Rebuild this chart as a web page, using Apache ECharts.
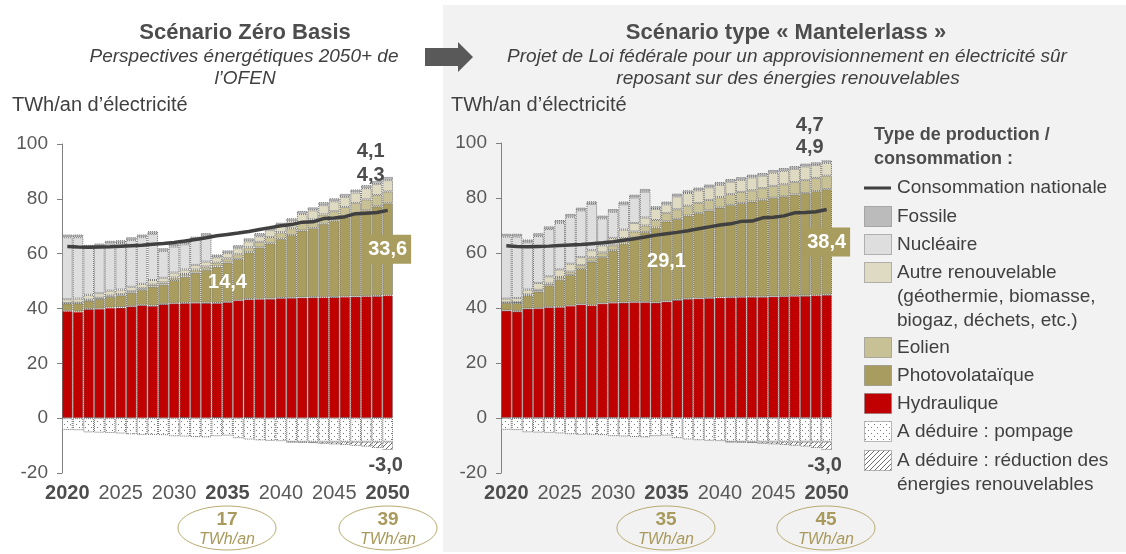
<!DOCTYPE html>
<html>
<head>
<meta charset="utf-8">
<script src="https://cdn.jsdelivr.net/npm/echarts@6/dist/echarts.min.js"></script>
<style>
  html, body { margin: 0; padding: 0; background: #ffffff; }
  #chart { width: 1126px; height: 554px; }
</style>
</head>
<body>
<div id="chart"></div>
<script>
// Categories
const years = ['2020','2021','2022','2023','2024','2025','2026','2027','2028','2029','2030',
               '2031','2032','2033','2034','2035','2036','2037','2038','2039','2040',
               '2041','2042','2043','2044','2045','2046','2047','2048','2049','2050'];
const yTicks = [-20, 0, 20, 40, 60, 80, 100];
const boldYears = ['2020', '2035', '2050'];

// Shared series (TWh/an)
const hydro = [39.1, 38.8, 39.8, 39.9, 40.3, 40.4, 40.8, 41.3, 41.0, 41.6, 41.9,
               42.0, 42.1, 42.1, 42.0, 42.4, 43.0, 43.4, 43.5, 43.6, 43.8,
               43.9, 44.0, 44.1, 44.1, 44.2, 44.3, 44.4, 44.5, 44.6, 44.8];
const nuclear = [22.6, 22.4, 17.2, 17.1, 17.2, 17.0, 17.1, 17.0, 16.8, 9.8, 9.5,
                 9.2, 9.3, 9.4, null, null, null, null, null, null, null,
                 null, null, null, null, null, null, null, null, null, null];
const consumption = [62.6, 62.4, 62.3, 62.4, 62.5, 62.7, 62.9, 63.1, 63.4, 63.7, 64.1,
                     64.6, 65.2, 65.8, 66.5, 67.0, 67.5, 68.1, 68.8, 69.5, 70.2,
                     70.6, 71.5, 71.6, 72.8, 73.0, 73.5, 74.6, 74.7, 75.0, 75.8];
const pumping = [-4.3, -4.4, -5.2, -5.3, -5.4, -5.6, -5.9, -6.1, -6.1, -6.2, -6.6,
                 -6.7, -6.9, -7.0, -6.6, -6.4, -7.3, -7.8, -8.1, -8.3, -8.4,
                 -8.6, -8.6, -8.6, -8.6, -8.6, -8.6, -8.6, -8.6, -8.6, -8.6];
const curtailment = [null, null, null, null, null, null, null, null, null, null, null,
                     null, null, null, null, null, null, null, null, null, null,
                     -0.2, -0.3, -0.5, -0.8, -1.0, -1.2, -1.5, -1.8, -2.3, -3.0];

// Scénario Zéro Basis
const solarZB = [2.8, 3.1, 3.1, 3.7, 4.0, 4.4, 5.0, 5.5, 7.0, 7.1, 8.5,
                 9.6, 11.0, 12.0, 13.3, 14.4, 15.1, 17.1, 18.8, 20.2, 21.6,
                 22.9, 24.5, 25.2, 26.8, 27.8, 29.0, 30.3, 31.3, 32.7, 33.6];
const windZB = [0.1, 0.2, 0.3, 0.3, 0.4, 0.4, 0.5, 0.6, 0.7, 0.8, 0.9,
                1.0, 1.1, 1.2, 1.4, 1.5, 1.7, 1.8, 2.0, 2.3, 2.4,
                2.5, 3.0, 3.2, 3.4, 3.5, 3.7, 3.8, 4.0, 4.1, 4.3];
const otherZB = [1.4, 1.5, 1.8, 1.7, 1.8, 1.7, 1.6, 1.6, 1.7, 1.7, 1.8,
                 1.6, 1.7, 1.8, 2.0, 1.9, 2.2, 2.2, 2.1, 2.5, 2.4,
                 2.5, 3.0, 3.3, 3.4, 3.6, 3.7, 3.8, 4.1, 4.0, 4.1];
const fossilZB = [1.0, 1.0, 1.0, 1.0, 1.0, 1.0, 1.0, 1.0, 1.0, 1.0, 1.0,
                  1.0, 1.0, 1.0, 1.0, 1.0, 1.1, 1.1, 1.1, 1.1, 1.1,
                  1.1, 1.1, 1.1, 1.1, 1.1, 1.1, 1.1, 1.1, 1.1, 1.2];

// Scénario type « Mantelerlass »
const solarML = [2.8, 3.1, 4.7, 6.1, 7.8, 9.9, 11.2, 12.9, 15.9, 16.9, 19.1,
                 21.4, 23.5, 25.5, 27.2, 29.1, 29.4, 30.2, 31.0, 31.9, 32.7,
                 33.6, 34.2, 34.6, 35.3, 35.9, 36.3, 36.9, 37.3, 37.9, 38.4];
const windML = [0.1, 0.2, 0.4, 0.6, 0.8, 1.0, 1.2, 1.4, 1.5, 1.7, 1.8,
                2.0, 2.2, 2.4, 2.8, 3.0, 3.5, 3.6, 3.7, 3.8, 3.8,
                3.9, 4.0, 4.1, 4.2, 4.3, 4.4, 4.5, 4.7, 4.8, 4.9];
const otherML = [1.4, 1.5, 1.8, 2.5, 2.6, 2.7, 2.9, 2.9, 2.6, 2.6, 2.7,
                 3.1, 3.1, 2.9, 4.0, 3.2, 4.7, 4.6, 4.6, 4.6, 4.5,
                 4.5, 4.4, 4.7, 4.5, 4.8, 4.9, 4.8, 5.0, 4.7, 4.7];
const fossilML = [1.0, 1.0, 1.0, 1.0, 1.0, 1.0, 1.0, 1.0, 1.0, 1.0, 1.0,
                  1.0, 1.0, 1.0, 1.0, 1.0, 1.0, 1.0, 1.0, 1.0, 1.0,
                  1.0, 1.0, 1.0, 1.0, 1.0, 1.0, 1.0, 1.0, 1.0, 0.9];

// Bottom-row totals
const totalsZB = ['17', '39'];
const totalsML = ['35', '45'];

const FONT = '"Liberation Sans", Arial, Helvetica, sans-serif';
const C = {
  hydro: '#C00000', solar: '#A89C5E', wind: '#C9C196', other: '#DFDAC2',
  nuclear: '#DEDEDE', fossil: '#BBBBBB', line: '#404040', text: '#404040',
  axis: '#595959', gold: '#A89A5C', ring: '#B8AA70', panel: '#F2F2F2'
};

// Fill patterns for the deduction layers
function dotPattern() {
  const c = document.createElement('canvas');
  c.width = 6; c.height = 6;
  const g = c.getContext('2d');
  g.fillStyle = '#ffffff'; g.fillRect(0, 0, 6, 6);
  g.fillStyle = '#7a7a7a';
  g.fillRect(1, 1, 1, 1); g.fillRect(4, 4, 1, 1);
  return c;
}
function hatchPattern() {
  const c = document.createElement('canvas');
  c.width = 5; c.height = 5;
  const g = c.getContext('2d');
  g.fillStyle = '#ffffff'; g.fillRect(0, 0, 5, 5);
  g.strokeStyle = '#6a6a6a'; g.lineWidth = 1;
  g.beginPath();
  g.moveTo(-1, 6); g.lineTo(6, -1);
  g.moveTo(-1, 1); g.lineTo(1, -1);
  g.moveTo(4, 6); g.lineTo(6, 4);
  g.stroke();
  return c;
}
const dots = { image: dotPattern(), repeat: 'repeat' };
const hatch = { image: hatchPattern(), repeat: 'repeat' };

const fmt = v => Number(v).toFixed(1).replace('.', ',');
const border = { borderColor: '#6f6f6f', borderWidth: 1, borderType: 'dotted' };

function barSeries(name, data, color, gi, extra) {
  return Object.assign({
    name: name, type: 'bar', stack: 'total' + gi,
    xAxisIndex: gi, yAxisIndex: gi,
    barCategoryGap: '0%', data: data,
    itemStyle: Object.assign({ color: color }, border),
    emphasis: { disabled: true }, animation: false
  }, extra || {});
}

function scenarioSeries(gi, solar, wind, other, fossil, lab) {
  const last = years.length - 1;
  const mid = years.indexOf('2035');
  const valueLabel = o => Object.assign({
    show: true, position: 'inside', fontWeight: 'bold', fontSize: 20, fontFamily: FONT,
    formatter: p => fmt(p.value)
  }, o);
  const solarData = solar.map((v, i) => {
    if (i === mid) return { value: v, label: valueLabel({ color: '#fff' }) };
    if (i === last) return { value: v, label: valueLabel({ color: '#fff', backgroundColor: C.solar, padding: [5, 4, 4, 4] }) };
    return v;
  });
  const topLabel = (arr, off) => arr.map((v, i) => i === last
    ? { value: v, label: valueLabel({ offset: off, color: '#4d4d4d' }) }
    : v);
  const curtData = curtailment.map((v, i) => i === last
    ? { value: v, label: valueLabel({ position: 'bottom', distance: 6, offset: [-2, 0], color: '#4d4d4d' }) }
    : v);
  return [
    barSeries('Hydraulique', hydro, C.hydro, gi),
    barSeries('Photovolataïque', solarData, C.solar, gi),
    barSeries('Eolien', topLabel(wind, lab.wind), C.wind, gi, {
      markLine: {
        silent: true, symbol: ['none', 'none'], animation: false,
        label: { show: false },
        lineStyle: { color: '#5a5a5a', width: 1, type: 'solid' },
        data: [[{ coord: ['2050', lab.lineTop] }, { coord: ['2050', lab.lineBottom] }]]
      }
    }),
    barSeries('Autre renouvelable', topLabel(other, lab.other), C.other, gi),
    barSeries('Nucléaire', nuclear, C.nuclear, gi),
    barSeries('Fossile', fossil, C.fossil, gi),
    barSeries('A déduire : pompage', pumping, dots, gi),
    barSeries('A déduire : réduction', curtData, hatch, gi),
    {
      name: 'Consommation nationale', type: 'line', xAxisIndex: gi, yAxisIndex: gi,
      data: consumption, symbol: 'none', z: 5, animation: false,
      lineStyle: { color: C.line, width: 3.5 }, emphasis: { disabled: true }
    }
  ];
}

function xAxis(gi) {
  return {
    type: 'category', gridIndex: gi, data: years, position: 'bottom',
    axisLine: { show: false }, axisTick: { show: false },
    axisLabel: {
      interval: i => i % 5 === 0, margin: 10, fontSize: 20, fontFamily: FONT, color: C.axis,
      formatter: v => boldYears.includes(v) ? '{b|' + v + '}' : v,
      rich: { b: { fontWeight: 'bold', fontSize: 20, fontFamily: FONT, color: '#4d4d4d' } }
    }
  };
}
function yAxis(gi) {
  return {
    type: 'value', gridIndex: gi, min: yTicks[0], max: yTicks[yTicks.length - 1], interval: 20,
    axisLine: { show: true, lineStyle: { color: '#808080', width: 1 } },
    axisTick: { show: true, length: 5, lineStyle: { color: '#808080' } },
    splitLine: { show: false },
    axisLabel: { margin: 14, fontSize: 19, fontFamily: FONT, color: C.axis }
  };
}

// Legend entries (drawn as graphics on the right-hand panel)
const legendItems = [
  { name: 'Fossile', fill: C.fossil, y: 206 },
  { name: 'Nucléaire', fill: C.nuclear, y: 234 },
  { name: 'Autre renouvelable\n(géothermie, biomasse,\nbiogaz, déchets, etc.)', fill: C.other, y: 262 },
  { name: 'Eolien', fill: C.wind, y: 337 },
  { name: 'Photovolataïque', fill: C.solar, y: 365 },
  { name: 'Hydraulique', fill: C.hydro, y: 393 },
  { name: 'A déduire : pompage', fill: dots, y: 421 },
  { name: 'A déduire : réduction des\nénergies renouvelables', fill: hatch, y: 450 }
];

function txt(x, y, text, o) {
  return {
    type: 'text', x: x, y: y, z: 10, silent: true,
    style: Object.assign({
      text: text, fill: C.text, fontSize: 19, fontFamily: FONT,
      align: 'left', verticalAlign: 'middle'
    }, o || {})
  };
}
function ring(cx, value) {
  return [
    { type: 'ellipse', z: 10, silent: true, shape: { cx: cx, cy: 528, rx: 49, ry: 22 },
      style: { fill: 'none', stroke: C.ring, lineWidth: 1 } },
    txt(cx, 520, value, { align: 'center', fill: C.gold, fontWeight: 'bold', fontSize: 19 }),
    txt(cx, 540, 'TWh/an', { align: 'center', fill: C.gold, fontStyle: 'italic', fontSize: 16 })
  ];
}

const graphics = [
  { type: 'rect', z: -10, silent: true, shape: { x: 443, y: 5, width: 700, height: 547 }, style: { fill: C.panel } },
  // arrow between the two scenarios
  { type: 'polygon', z: 10, silent: true,
    shape: { points: [[425, 48], [458, 48], [458, 42], [473, 57], [458, 72], [458, 66], [425, 66]] },
    style: { fill: '#595959' } },
  txt(245, 33, 'Scénario Zéro Basis', { align: 'center', fontWeight: 'bold', fontSize: 22, fill: '#4d4d4d' }),
  txt(244, 57, 'Perspectives énergétiques 2050+ de', { align: 'center', fontStyle: 'italic', fontSize: 19 }),
  txt(245, 79, 'l\u2019OFEN', { align: 'center', fontStyle: 'italic', fontSize: 19 }),
  txt(786, 33, 'Scénario type « Mantelerlass »', { align: 'center', fontWeight: 'bold', fontSize: 22, fill: '#4d4d4d' }),
  txt(787, 57, 'Projet de Loi fédérale pour un approvisionnement en électricité sûr', { align: 'center', fontStyle: 'italic', fontSize: 19 }),
  txt(788, 79, 'reposant sur des énergies renouvelables', { align: 'center', fontStyle: 'italic', fontSize: 19 }),
  txt(12, 105, 'TWh/an d\u2019électricité', { fontSize: 20 }),
  txt(451, 105, 'TWh/an d\u2019électricité', { fontSize: 20 }),
  txt(874, 135, 'Type de production /', { fontWeight: 'bold', fontSize: 18, fill: '#4d4d4d' }),
  txt(874, 159, 'consommation :', { fontWeight: 'bold', fontSize: 18, fill: '#4d4d4d' }),
  { type: 'line', z: 10, silent: true, shape: { x1: 864, y1: 188, x2: 891, y2: 188 }, style: { stroke: C.line, lineWidth: 3 } },
  txt(897, 188, 'Consommation nationale')
].concat(
  ring(227, totalsZB[0]), ring(388, totalsZB[1]),
  ring(666, totalsML[0]), ring(826, totalsML[1])
);
legendItems.forEach(it => {
  graphics.push({ type: 'rect', z: 10, silent: true, shape: { x: 864.5, y: it.y + 0.5, width: 27, height: 20 },
    style: { fill: it.fill, stroke: '#777', lineWidth: 1, lineDash: [1, 1] } });
  // multi-line names start on the row of their swatch
  graphics.push(txt(897, it.y - 1, it.name, { verticalAlign: 'top', lineHeight: 24 }));
});

const chart = echarts.init(document.getElementById('chart'), null, { renderer: 'canvas' });
chart.setOption({
  backgroundColor: '#ffffff',
  animation: false,
  textStyle: { fontFamily: FONT },
  grid: [
    { left: 62, top: 144, width: 331, height: 329 },
    { left: 501, top: 143, width: 331, height: 330 }
  ],
  xAxis: [xAxis(0), xAxis(1)],
  yAxis: [yAxis(0), yAxis(1)],
  series: scenarioSeries(0, solarZB, windZB, otherZB, fossilZB,
                         { wind: [-17, -22], other: [-17, -34], lineTop: 101.5, lineBottom: 80.8 })
    .concat(scenarioSeries(1, solarML, windML, otherML, fossilML,
                         { wind: [-17, -35], other: [-17, -44], lineTop: 108, lineBottom: 85.6 })),
  graphic: graphics
});
</script>
</body>
</html>
